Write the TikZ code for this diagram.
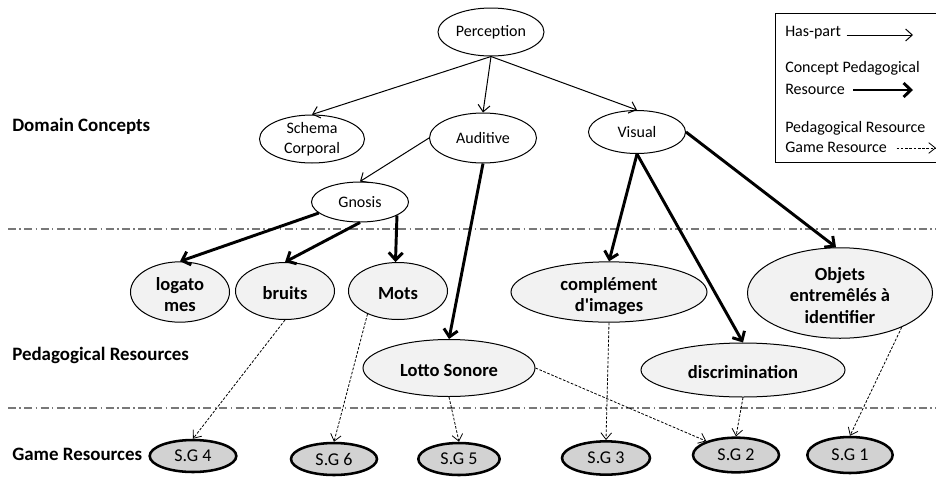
\documentclass[tikz,border=0pt]{standalone}
\usepackage{fontspec}
\setmainfont{Carlito}[Ligatures=TeXOff]
\usepackage{tikz}
\usetikzlibrary{shapes.geometric}
\usetikzlibrary{arrows.meta}

% bold resource text, set a little below the centre of its ellipse
\newcommand{\pedlbl}[1]{\raisebox{-3.5pt}[\height][\depth]{\begin{tabular}{@{}c@{}}#1\end{tabular}}}

\tikzset{
  domconcept/.style={ellipse, draw, line width=0.75pt, inner sep=0pt, align=center, font=\fontsize{12}{15}\selectfont},
  pedres/.style={ellipse, draw, line width=0.75pt, fill={rgb, 255:red, 242; green, 242; blue, 242 }, inner sep=0pt, align=center, font=\bfseries\fontsize{13.9}{16}\selectfont},
  gameres/.style={ellipse, draw, line width=1.9pt, fill={rgb, 255:red, 210; green, 210; blue, 210 }, inner sep=0pt, font=\fontsize{13.5}{16}\selectfont},
  rowlabel/.style={anchor=west, inner sep=0pt, font=\bfseries\fontsize{14.2}{17}\selectfont},
  legtext/.style={anchor=west, inner sep=0pt, font=\fontsize{12}{14}\selectfont},
  haspart/.style={line width=0.75pt, -{Straight Barb[length=5pt,width=9pt]}},
  cpr/.style={line width=2.2pt, -{Straight Barb[length=5.5pt,width=10.5pt]}},
  prgr/.style={line width=0.6pt, dash pattern=on 2pt off 1.2pt, -{Straight Barb[length=5pt,width=8pt]}},
  sepline/.style={draw={rgb, 255:red, 120; green, 120; blue, 120 }, line width=0.9pt, dash pattern=on 6pt off 2.5pt on 1.2pt off 2.5pt}
}

\begin{document}
\begin{tikzpicture}[x=0.75pt,y=0.75pt,yscale=-1,xscale=1]
\useasboundingbox (0,0) rectangle (936,483);

%Separators
\draw [sepline] (8,229) -- (936,229) ;
\draw [sepline] (8,408) -- (936,408) ;

%Row labels
\node [rowlabel] (rdom) at (12,126) {Domain Concepts};
\node [rowlabel] (rped) at (12,355) {Pedagogical Resources};
\node [rowlabel] (rgame) at (12,454) {Game Resources};

%Domain concepts
\node [domconcept, minimum width=79.5pt, minimum height=36pt] (perc) at (491,32) {Perception};
\node [domconcept, minimum width=78.75pt, minimum height=36pt] (schema) at (312,139) {Schema\\Corporal};
\node [domconcept, minimum width=80.25pt, minimum height=37.5pt] (audit) at (483,138) {Auditive};
\node [domconcept, minimum width=72.75pt, minimum height=32.25pt] (visual) at (637,132) {Visual};
\node [domconcept, minimum width=72.75pt, minimum height=30pt] (gnosis) at (360,202) {Gnosis};

%Pedagogical resources
\node [pedres, minimum width=74.25pt, minimum height=42pt] (logat) at (180,292) {\pedlbl{logato\\mes}};
\node [pedres, minimum width=74.25pt, minimum height=42.75pt] (bruits) at (285,291) {\pedlbl{bruits}};
\node [pedres, minimum width=74.25pt, minimum height=42.75pt] (mots) at (398,291) {\pedlbl{Mots}};
\node [pedres, minimum width=129pt, minimum height=42.75pt] (lotto) at (449,368) {\pedlbl{Lotto Sonore}};
\node [pedres, minimum width=147pt, minimum height=41.25pt] (compl) at (609,292) {\pedlbl{complément\\d'images}};
\node [pedres, minimum width=153pt, minimum height=40.5pt] (discr) at (743,370) {\pedlbl{discrimination}};
\node [pedres, minimum width=138.75pt, minimum height=67.5pt] (objets) at (840,293) {\pedlbl{Objets\\entremêlés à\\identifier}};

%Game resources
\node [gameres, minimum width=65pt, minimum height=24pt] (sg4) at (193,456) {S.G 4};
\node [gameres, minimum width=64.5pt, minimum height=24pt] (sg6) at (334,459) {S.G 6};
\node [gameres, minimum width=61pt, minimum height=24pt] (sg5) at (459,459) {S.G 5};
\node [gameres, minimum width=66pt, minimum height=25pt] (sg3) at (606,458) {S.G 3};
\node [gameres, minimum width=64.5pt, minimum height=26pt] (sg2) at (736,455) {S.G 2};
\node [gameres, minimum width=64pt, minimum height=27pt] (sg1) at (850,455) {S.G 1};

%Has-part
\draw [haspart] (perc.south) -- (schema.north) ;
\draw [haspart] (perc.south) -- (audit.north) ;
\draw [haspart] (perc.south) -- (visual.north) ;
\draw [haspart] (audit.west) -- (gnosis.north) ;

%Concept -> pedagogical resource
\draw [cpr] (gnosis.195) -- (logat.north) ;
\draw [cpr] (gnosis.south) -- (bruits.north) ;
\draw [cpr] (gnosis.-20) -- (mots.95) ;
\draw [cpr] (audit.south) -- (lotto.north) ;
\draw [cpr] (visual.south) -- (compl.north) ;
\draw [cpr] (visual.south) -- (discr.north) ;
\draw [cpr] (visual.east) -- (objets.95) ;

%Pedagogical resource -> game resource
\draw [prgr] (bruits.south) -- (sg4.north) ;
\draw [prgr] (mots.217) -- (sg6.north) ;
\draw [prgr] (lotto.south) -- (sg5.north) ;
\draw [prgr] (lotto.east) -- (sg2.155) ;
\draw [prgr] (compl.south) -- (sg3.north) ;
\draw [prgr] (discr.south) -- (sg2.north) ;
\draw [prgr] (objets.-29) -- (sg1.north) ;

%Legend
\draw [line width=0.75pt] (940,13) -- (775,13) -- (775,162) -- (940,162) ;
\node [legtext] (lg1) at (785,33) {Has-part};
\node [legtext] (lg2) at (785,68) {Concept Pedagogical};
\node [legtext] (lg3) at (785,89) {Resource};
\node [legtext] (lg4) at (785,128) {Pedagogical Resource};
\node [legtext] (lg5) at (785,147) {Game Resource};
\coordinate (lg1e) at (913,35);
\coordinate (lg3e) at (913,90);
\coordinate (lg5e) at (936,148);
\draw [haspart] ([xshift=4pt]lg1.east |- lg1e) -- (lg1e) ;
\draw [cpr] ([xshift=6pt]lg3.east |- lg3e) -- (lg3e) ;
\draw [prgr] ([xshift=7pt]lg5.east |- lg5e) -- (lg5e) ;

\end{tikzpicture}
\end{document}
